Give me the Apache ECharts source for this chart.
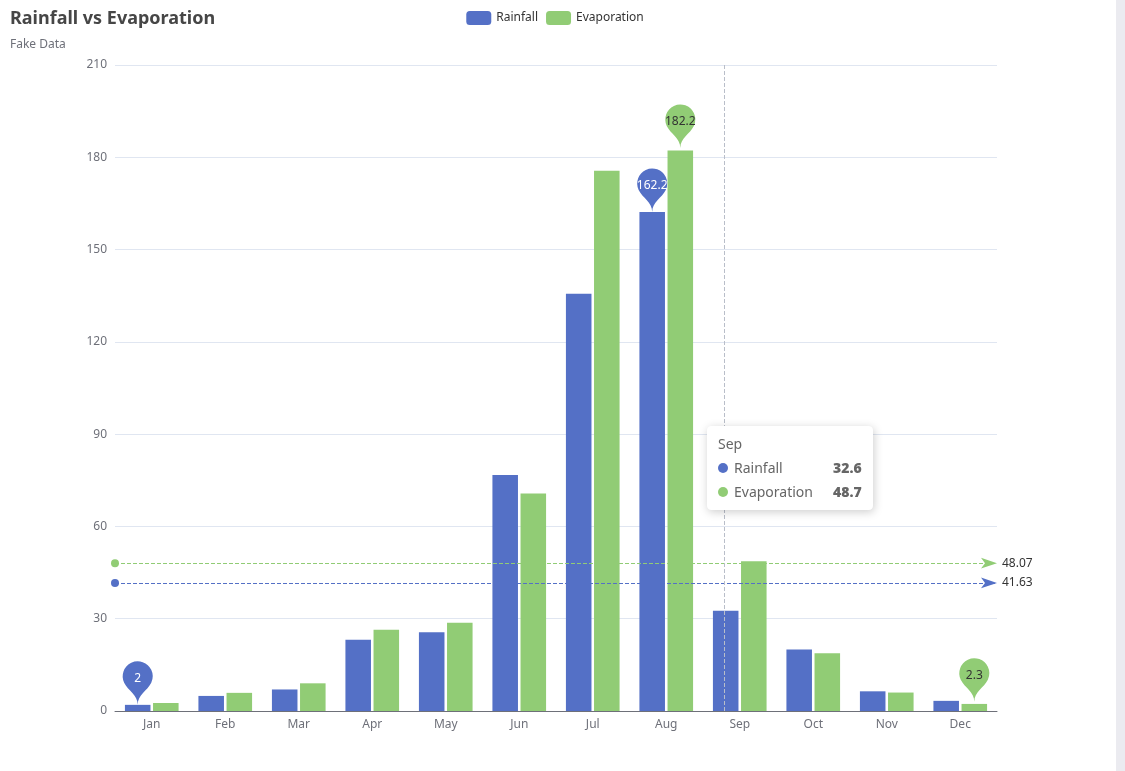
<!DOCTYPE html>
<html>
<head>
<meta charset="utf-8">
<script src="https://cdn.jsdelivr.net/npm/echarts@6/dist/echarts.min.js"></script>
<style>
html,body{margin:0;padding:0;background:#fff;overflow:hidden;}
#chart{position:absolute;left:0;top:0;width:1110px;height:771px;}
#bar{position:absolute;left:1116px;top:0;width:9px;height:771px;background:#ebebf0;}
</style>
</head>
<body>
<div id="chart"></div>
<div id="bar"></div>
<script>
const months = ['Jan','Feb','Mar','Apr','May','Jun','Jul','Aug','Sep','Oct','Nov','Dec'];
const rainfall = [2.0, 4.9, 7.0, 23.2, 25.6, 76.7, 135.6, 162.2, 32.6, 20.0, 6.4, 3.3];
const evaporation = [2.6, 5.9, 9.0, 26.4, 28.7, 70.7, 175.6, 182.2, 48.7, 18.8, 6.0, 2.3];
const evapMarks = [
  {name: 'Max', value: 182.2, xAxis: 7, yAxis: 183},
  {name: 'Min', value: 2.3, xAxis: 11, yAxis: 3}
];
const FONT = '"Noto Sans", sans-serif';
const chart = echarts.init(document.getElementById('chart'));
chart.setOption({
  animation: false,
  textStyle: {fontFamily: FONT},
  color: ['#5470c6', '#91cc75'],
  title: {
    text: 'Rainfall vs Evaporation', subtext: 'Fake Data', left: 5, top: 5,
    textStyle: {fontSize: 18, fontWeight: 'bold', color: '#464646', fontFamily: FONT},
    subtextStyle: {fontSize: 12, color: '#6E7079', fontFamily: FONT},
    itemGap: 11
  },
  tooltip: {
    trigger: 'axis',
    position: function () { return [707, 426]; },
    backgroundColor: '#fff',
    borderColor: '#fff',
    borderWidth: 1,
    padding: [10, 10],
    extraCssText: 'box-shadow: 1px 2px 10px rgba(0,0,0,0.2);',
    textStyle: {fontFamily: FONT, color: '#666', fontSize: 14},
    axisPointer: {type: 'line', lineStyle: {color: '#B9BEC9', type: 'dashed', width: 1}}
  },
  legend: {
    data: ['Rainfall', 'Evaporation'], top: 6,
    itemWidth: 25, itemHeight: 14,
    textStyle: {color: '#333', fontSize: 12, fontFamily: FONT}
  },
  grid: {left: 115, right: 113, top: 65, bottom: 60},
  xAxis: [{
    type: 'category', data: months,
    axisLine: {lineStyle: {color: '#6E7079'}},
    axisTick: {lineStyle: {color: '#6E7079'}},
    axisLabel: {color: '#6E7079', fontSize: 12, margin: 8},
    axisPointer: {type: 'none'}
  }, {
    type: 'value', min: 0, max: 12, position: 'top',
    axisLine: {show: false}, axisTick: {show: false},
    axisLabel: {show: false}, splitLine: {show: false},
    axisPointer: {show: true, type: 'line', triggerTooltip: false, label: {show: false},
      lineStyle: {color: '#B9BEC9', type: 'dashed', width: 1}}
  }],
  yAxis: [{
    type: 'value', min: 0, max: 210, interval: 30,
    axisLine: {show: false}, axisTick: {show: false},
    axisLabel: {color: '#6E7079', fontSize: 12, margin: 8},
    splitLine: {lineStyle: {color: '#E0E6F1'}}
  }],
  series: [
    {
      name: 'Rainfall', type: 'bar', data: rainfall,
      emphasis: {disabled: true},
      markPoint: {
        data: [{type: 'max', name: 'Max'}, {type: 'min', name: 'Min'}],
        label: {color: '#fff', fontSize: 12}
      },
      markLine: {
        data: [{type: 'average', name: 'Avg'}],
        label: {color: '#333', fontSize: 12}
      }
    },
    {
      name: 'Evaporation', type: 'bar', data: evaporation,
      emphasis: {disabled: true},
      markPoint: {
        data: evapMarks,
        label: {color: '#333', fontSize: 12}
      },
      markLine: {
        data: [{type: 'average', name: 'Avg'}],
        label: {color: '#333', fontSize: 12}
      }
    }
  ]
});
chart.dispatchAction({type: 'showTip', x: 724, y: 417});
</script>
</body>
</html>
